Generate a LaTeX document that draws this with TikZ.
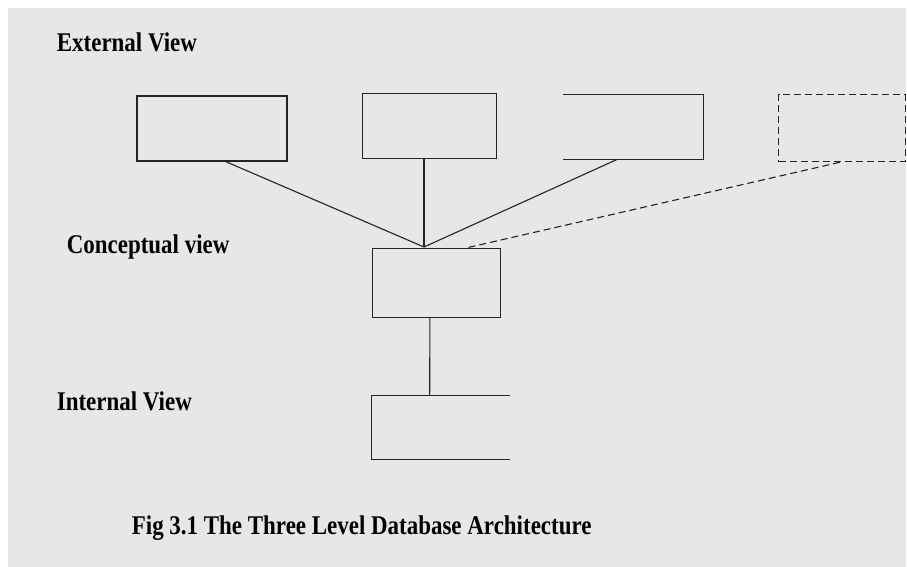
\documentclass[tikz,border=0pt]{standalone}
\usepackage{fontspec}
\newfontfamily\figfont{Liberation Serif}[FakeStretch=0.85]
\usetikzlibrary{calc}
\definecolor{sheet}{RGB}{231,231,231}
\definecolor{ink}{RGB}{35,35,35}
\tikzset{box/.style={minimum width=#1, inner sep=0pt, draw=ink, line width=1.1pt}}
\tikzset{openbox/.style={minimum width=#1, inner sep=0pt}}
\tikzset{lbl/.style={anchor=base west, inner sep=0pt, font=\figfont\bfseries\fontsize{27}{30}\selectfont}}
\tikzset{link/.style={draw=ink, line width=1.1pt}}
\tikzset{dashlink/.style={link, dash pattern=on 7pt off 4pt}}

\begin{document}
\begin{tikzpicture}[x=1pt, y=-1pt]
\useasboundingbox (0,0) rectangle (907,567);
\fill[white] (0,0) rectangle (907,567);
\fill[sheet] (8,8) rectangle (906,567);

\node[lbl] (extlbl) at (56.7,51.7) {External View};
\node[lbl] (conlbl) at (66.7,253.3) {Conceptual view};
\node[lbl] (intlbl) at (56.7,410.7) {Internal View};
\node[lbl] (cap) at (131.7,534.3) {Fig 3.1 The Three Level Database Architecture};

\node[box=150pt, minimum height=65pt] (ext1) at (212,128.5) {};
\node[box=134pt, minimum height=65pt] (ext2) at (429.7,125.8) {};
\node[openbox=140.6pt, minimum height=64.6pt] (ext3) at (633,127) {};
\node[box=126.3pt, minimum height=67pt, dash pattern=on 7pt off 4pt] (ext4) at (841.9,128.2) {};

\node[box=128.7pt, minimum height=69pt] (con) at (436.4,282.8) {};
\node[openbox=137.3pt, minimum height=63.6pt] (int) at (440.7,427.5) {};

% open sides
\draw[link] (ext3.north west) -- (ext3.north east) -- (ext3.south east) -- (ext3.south west);
\draw[link] (int.north east) -- (int.north west) -- (int.south west) -- (int.south east);

\coordinate (hub) at (424,247);

\draw[link] ($(ext1.south west)!0.59!(ext1.south east)$) -- (hub);
\draw[link] (hub |- ext2.south) -- (hub);
\draw[link] ($(ext3.south west)!0.386!(ext3.south east)$) -- (hub);
\draw[dashlink] ($(ext4.south)+(-2,0)$) -- ($(con.north west)!0.736!(con.north east)$);

\draw[link] ($(con.south west)!0.45!(con.south east)$) -- ($(int.north west)!0.42!(int.north east)$);
\end{tikzpicture}
\end{document}
